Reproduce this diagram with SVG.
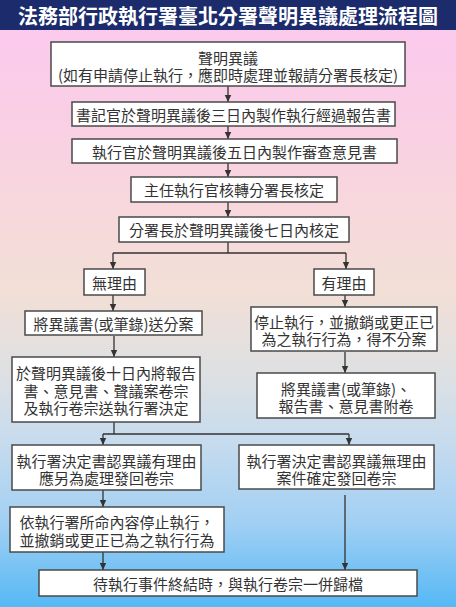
<svg xmlns="http://www.w3.org/2000/svg" width="456" height="607" viewBox="0 0 456 607">
<defs>
<linearGradient id="bg" x1="0" y1="0" x2="0" y2="1">
<stop offset="0" stop-color="#fcc8f0"/>
<stop offset="0.2" stop-color="#f9cfe4"/>
<stop offset="0.35" stop-color="#f7d8dc"/>
<stop offset="0.48" stop-color="#f2dfd6"/>
<stop offset="0.62" stop-color="#dde0e3"/>
<stop offset="0.73" stop-color="#c6dbee"/>
<stop offset="0.86" stop-color="#a2d0f3"/>
<stop offset="1" stop-color="#55b8f5"/>
</linearGradient>
<marker id="arr" markerUnits="userSpaceOnUse" markerWidth="8" markerHeight="8" refX="7" refY="4" orient="auto">
<path d="M0,0.8 L7,4 L0,7.2 Z" fill="#333"/>
</marker>
<style>
.box{fill:#fff;stroke:#4a4a4a;stroke-width:1.5}
.t{font-family:"Noto Sans CJK TC","Noto Sans CJK SC",sans-serif;font-size:15px;fill:#333;text-anchor:middle;dominant-baseline:central}
.title{font-family:"Noto Sans CJK TC","Noto Sans CJK SC",sans-serif;font-size:20px;font-weight:bold;fill:#fff;text-anchor:middle;dominant-baseline:central}
.c{fill:none;stroke:#333;stroke-width:1.3}
.a{marker-end:url(#arr)}
</style>
</defs>
<rect x="0" y="0" width="456" height="607" fill="url(#bg)"/>
<rect x="0" y="0" width="456" height="30" fill="#1c2b6c"/>
<text class="title" x="228" y="15">法務部行政執行署臺北分署聲明異議處理流程圖</text>

<g id="connectors">
<path class="c a" d="M228,86 V102"/>
<path class="c a" d="M228,126 V139"/>
<path class="c a" d="M228,163 V177"/>
<path class="c a" d="M228,202 V217"/>
<path class="c" d="M228,242 V253 M113,253 H346"/>
<path class="c a" d="M113,253 V269"/>
<path class="c a" d="M346,253 V269"/>
<path class="c a" d="M113,295 V311"/>
<path class="c a" d="M345,295 V307"/>
<path class="c a" d="M114,336 V357"/>
<path class="c a" d="M345,352 V373"/>
<path class="c" d="M114,422 V434 M103,434 H349"/>
<path class="c a" d="M103,434 V445"/>
<path class="c a" d="M349,434 V445"/>
<path class="c a" d="M103,490 V507"/>
<path class="c a" d="M103,552 V570"/>
<path class="c a" d="M345,495 V570"/>
</g>

<g id="n1"><rect class="box" x="51" y="42" width="354" height="44"/>
<text class="t" x="228" y="57">聲明異議</text>
<text class="t" x="228" y="74">(如有申請停止執行，應即時處理並報請分署長核定)</text></g>
<g id="n2"><rect class="box" x="72" y="102" width="323" height="24"/>
<text class="t" x="233.5" y="114">書記官於聲明異議後三日內製作執行經過報告書</text></g>
<g id="n3"><rect class="box" x="72" y="139" width="325" height="24"/>
<text class="t" x="234.5" y="151">執行官於聲明異議後五日內製作審查意見書</text></g>
<g id="n4"><rect class="box" x="131" y="177" width="206" height="25"/>
<text class="t" x="234" y="189.5">主任執行官核轉分署長核定</text></g>
<g id="n5"><rect class="box" x="119" y="217" width="230" height="25"/>
<text class="t" x="234" y="229.5">分署長於聲明異議後七日內核定</text></g>
<g id="n6"><rect class="box" x="84" y="269" width="61" height="26"/>
<text class="t" x="114.5" y="282">無理由</text></g>
<g id="n7"><rect class="box" x="314" y="269" width="60" height="26"/>
<text class="t" x="344" y="282">有理由</text></g>
<g id="n8"><rect class="box" x="25" y="311" width="177" height="24"/>
<text class="t" x="113.5" y="323">將異議書(或筆錄)送分案</text></g>
<g id="n9"><rect class="box" x="251" y="307" width="186" height="44"/>
<text class="t" x="344" y="321">停止執行，並撤銷或更正已</text>
<text class="t" x="344" y="338">為之執行行為，得不分案</text></g>
<g id="n10"><rect class="box" x="12" y="357" width="188" height="65"/>
<text class="t" x="106" y="372">於聲明異議後十日內將報告</text>
<text class="t" x="106" y="390">書、意見書、聲議案卷宗</text>
<text class="t" x="106" y="407">及執行卷宗送執行署決定</text></g>
<g id="n11"><rect class="box" x="257" y="373" width="178" height="45"/>
<text class="t" x="346" y="388">將異議書(或筆錄)、</text>
<text class="t" x="346" y="405">報告書、意見書附卷</text></g>
<g id="n12"><rect class="box" x="12" y="445" width="189" height="45"/>
<text class="t" x="106.5" y="460">執行署決定書認異議有理由</text>
<text class="t" x="106.5" y="477">應另為處理發回卷宗</text></g>
<g id="n13"><rect class="box" x="239" y="445" width="195" height="44"/>
<text class="t" x="336.5" y="460">執行署決定書認異議無理由</text>
<text class="t" x="336.5" y="477">案件確定發回卷宗</text></g>
<g id="n14"><rect class="box" x="10" y="507" width="214" height="45"/>
<text class="t" x="117" y="521">依執行署所命內容停止執行，</text>
<text class="t" x="117" y="539">並撤銷或更正已為之執行行為</text></g>
<g id="n15"><rect class="box" x="39" y="570" width="378" height="26"/>
<text class="t" x="228" y="583">待執行事件終結時，與執行卷宗一併歸檔</text></g>
</svg>
